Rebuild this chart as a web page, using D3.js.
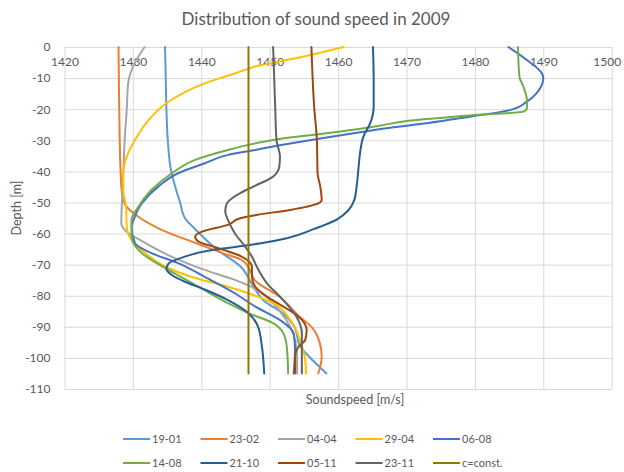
<!DOCTYPE html>
<html>
<head>
<meta charset="utf-8">
<script src="https://cdn.jsdelivr.net/npm/d3@7"></script>
<style>
  html, body { margin: 0; padding: 0; background: #fff; }
  svg { display: block; font-family: Lato, "Open Sans", sans-serif; }
</style>
</head>
<body>
<svg id="chart" width="624" height="472"></svg>
<script>
// ---- data: [sound speed m/s, depth m] ----
const s1901 = [[1434.7,0],[1434.8,-10],[1434.9,-20],[1435.1,-30],[1435.6,-40],[1436.2,-45],[1436.9,-50],[1437.6,-55],[1439.3,-59],[1442.2,-65],[1445.7,-70.5],[1447.6,-77],[1449.1,-81.5],[1451.8,-85.5],[1453.6,-90],[1454.4,-96],[1456.4,-101],[1458.3,-105]];
const s2302 = [[1427.9,0],[1428.0,-20],[1428.2,-40],[1428.4,-47],[1428.8,-50.5],[1430.8,-54.6],[1434.2,-58.8],[1439.1,-63],[1443,-66.2],[1445.9,-68.5],[1447.1,-71.7],[1447.8,-75],[1451.5,-80.4],[1454.4,-86.8],[1456.1,-90],[1457.3,-95],[1457.6,-99.6],[1457.1,-105]];
const s0404 = [[1431.7,0],[1429.8,-7.4],[1429.3,-11.7],[1429.1,-20],[1428.8,-30],[1428.6,-40],[1428.4,-50],[1428.3,-56.6],[1428.8,-58.8],[1431.8,-63],[1435.7,-67.5],[1440.5,-71.7],[1444.9,-74.9],[1447.4,-77.2],[1449.3,-80],[1451.5,-85],[1453,-90],[1453.8,-95],[1454,-100],[1454,-105]];
const s2904 = [[1460.8,0],[1454.3,-3.4],[1447.9,-6.3],[1444.9,-8.5],[1440.5,-11.7],[1435.2,-17.6],[1432.3,-23.5],[1430.3,-29.9],[1429.1,-35.3],[1428.6,-40.6],[1428.6,-46],[1429,-51.4],[1429.1,-57.8],[1429.8,-62],[1431.8,-66.3],[1434.7,-70.6],[1439.1,-74.3],[1443.9,-77.1],[1446.9,-79.2],[1450.5,-82.4],[1453,-87.8],[1454.4,-94.2],[1455.2,-100.6],[1455.3,-105]];
const s0608 = [[1484.9,0],[1487.5,-4],[1489.8,-8.5],[1490,-10],[1489,-14.9],[1487.6,-17.6],[1485.1,-20.3],[1479.3,-22.4],[1473,-24.5],[1468.1,-25.8],[1463.2,-27.4],[1457.4,-29.4],[1450.5,-32],[1447.9,-33.1],[1443.9,-34.7],[1440.5,-37.4],[1436.6,-40.6],[1433.7,-44.9],[1431.3,-50.3],[1430.1,-55.6],[1429.8,-57.8],[1430.3,-63.1],[1432.7,-66.3],[1436.6,-69.5],[1440.5,-73.9],[1444.9,-79.2],[1447.9,-83.5],[1451.5,-87.8],[1453.5,-92.1],[1453.7,-97.4],[1453.5,-105]];
const s1408 = [[1486.3,0],[1486.5,-9.5],[1487.1,-12.8],[1487.6,-17],[1487.6,-19.7],[1487.1,-20.8],[1479.3,-22.0],[1470,-23.8],[1466.1,-25.3],[1457.4,-28.0],[1450.5,-29.9],[1447.9,-31],[1443.9,-33.1],[1439.1,-36.3],[1435.7,-40.6],[1432.7,-46],[1430.8,-51.4],[1429.8,-55.6],[1429.8,-61],[1431.3,-66.3],[1435.2,-71.7],[1439.6,-77.1],[1443.9,-82.4],[1446.9,-85.6],[1450.5,-88.8],[1452,-92.1],[1452.5,-96.4],[1452.7,-105]];
const s2110 = [[1465.1,0],[1465.2,-10.6],[1465.2,-19.2],[1464.7,-24.5],[1463.7,-28.8],[1463.2,-34.2],[1463,-38.5],[1462.7,-45],[1462.4,-49],[1461.5,-52.5],[1459.8,-55.5],[1456.5,-58.5],[1452.5,-61.5],[1448.5,-63.2],[1445,-64.3],[1441,-65.5],[1437.5,-67.5],[1435.2,-69.7],[1434.9,-71.5],[1435.8,-73.5],[1437.6,-75.5],[1440.5,-78],[1443.9,-81.4],[1446.9,-85.6],[1448.3,-90],[1448.8,-95.3],[1449.2,-105]];
const s0511 = [[1456.1,0],[1456.5,-19.2],[1456.9,-30],[1457,-40.6],[1457.4,-45],[1457.6,-49.2],[1457.1,-50.3],[1453,-52.4],[1448.1,-54],[1445.7,-55.1],[1443.9,-57.2],[1440.1,-59.4],[1439.1,-61],[1439.6,-62.6],[1442.5,-64.7],[1445.9,-67.4],[1447.4,-70.6],[1447.4,-73.9],[1447.9,-77.1],[1449.6,-80.3],[1452,-83.5],[1454.2,-86.7],[1455.4,-91],[1455.2,-94.2],[1454.2,-96.4],[1453.7,-99.6],[1453.7,-105]];
const s2311 = [[1450.5,0],[1450.8,-19.2],[1451,-30],[1451.5,-35.3],[1451.4,-38.5],[1450.5,-41.7],[1447.6,-44.9],[1445.7,-47],[1444.6,-48.5],[1443.7,-50.5],[1443.5,-53],[1443.9,-55.6],[1444.9,-59.9],[1446.4,-64.2],[1447.4,-67.4],[1448.1,-70.6],[1449.6,-76],[1451.5,-80.3],[1453.9,-86.7],[1454.7,-92.1],[1454.7,-98.5],[1454.7,-105]];
const sConst = [[1446.9,0],[1446.9,-105]];

const seriesNames = ["19-01","23-02","04-04","29-04","06-08","14-08","21-10","05-11","23-11","c=const."];
const seriesData = [s1901, s2302, s0404, s2904, s0608, s1408, s2110, s0511, s2311, sConst];
const xTicks = [1420,1430,1440,1450,1460,1470,1480,1490,1500];
const yTicks = [0,-10,-20,-30,-40,-50,-60,-70,-80,-90,-100,-110];
const titleText = "Distribution of sound speed in 2009";
const xTitle = "Soundspeed [m/s]";
const yTitle = "Depth [m]";

// ---- styles ----
const colors = ["#5B9BD5","#ED7D31","#A5A5A5","#FFC000","#4472C4","#70AD47","#255E91","#9E480E","#636363","#997300"];
const textColor = "#595959";

const svg = d3.select("#chart");
const L = 64.5, R = 611.7, T = 47, B = 389;
const x = d3.scaleLinear().domain([1420,1500]).range([L,R]);
const y = d3.scaleLinear().domain([0,-110]).range([T,B]);

// title
svg.append("text").attr("x", 316).attr("y", 25).attr("text-anchor","middle")
  .attr("font-size", 17).attr("fill", textColor).text(titleText);

// grid
const gx = svg.append("g").attr("transform", `translate(0,${B})`)
  .call(d3.axisBottom(x).tickValues(xTicks).tickSize(-(B-T)).tickFormat(""));
gx.select(".domain").remove();
gx.selectAll("line").attr("stroke","#d9d9d9").attr("stroke-width",1);
const gy = svg.append("g").attr("transform", `translate(${L},0)`)
  .call(d3.axisLeft(y).tickValues(yTicks).tickSize(-(R-L)).tickFormat(""));
gy.select(".domain").remove();
gy.selectAll("line").attr("stroke","#d9d9d9").attr("stroke-width",1);

// x tick labels (below the top axis line)
const ax = svg.append("g").attr("transform", `translate(0,${T})`)
  .call(d3.axisBottom(x).tickValues(xTicks).tickSize(0).tickPadding(10).tickFormat(d3.format("d")));
ax.select(".domain").remove();
ax.selectAll("text").attr("font-size", 12).attr("fill", textColor).attr("font-family","Lato, sans-serif");
ax.selectAll(".tick").filter(d => d === 1500).select("text").attr("x", -5);

// y tick labels
const ay = svg.append("g").attr("transform", `translate(${L},0)`)
  .call(d3.axisLeft(y).tickValues(yTicks).tickSize(0).tickPadding(14).tickFormat(d => d === 0 ? "0" : "-" + Math.abs(d)));
ay.select(".domain").remove();
ay.selectAll("text").attr("font-size", 12).attr("fill", textColor).attr("font-family","Lato, sans-serif");

// axis titles
svg.append("text").attr("x", 355).attr("y", 404).attr("text-anchor","middle")
  .attr("font-size", 12.5).attr("fill", textColor).text(xTitle);
svg.append("text").attr("transform", "translate(21,208) rotate(-90)").attr("text-anchor","middle")
  .attr("font-size", 12.5).attr("fill", textColor).text(yTitle);

// lines
const line = d3.line().x(d => x(d[0])).y(d => y(d[1])).curve(d3.curveMonotoneY);
svg.append("g").selectAll("path").data(seriesData).join("path")
  .attr("d", line).attr("fill","none")
  .attr("stroke", (d,i) => colors[i]).attr("stroke-width", 2)
  .attr("stroke-linejoin","round").attr("stroke-linecap","round");

// legend
const lg = svg.append("g");
seriesNames.forEach((name, i) => {
  const col = i % 5, row = Math.floor(i / 5);
  const lx = 123 + col * 77.5, ly = 439 + row * 24;
  lg.append("line").attr("x1", lx).attr("x2", lx + 27).attr("y1", ly).attr("y2", ly)
    .attr("stroke", colors[i]).attr("stroke-width", 2);
  lg.append("text").attr("x", lx + 29).attr("y", ly).attr("dy","0.35em")
    .attr("font-size", 11).attr("fill", textColor).text(name);
});
</script>
</body>
</html>
